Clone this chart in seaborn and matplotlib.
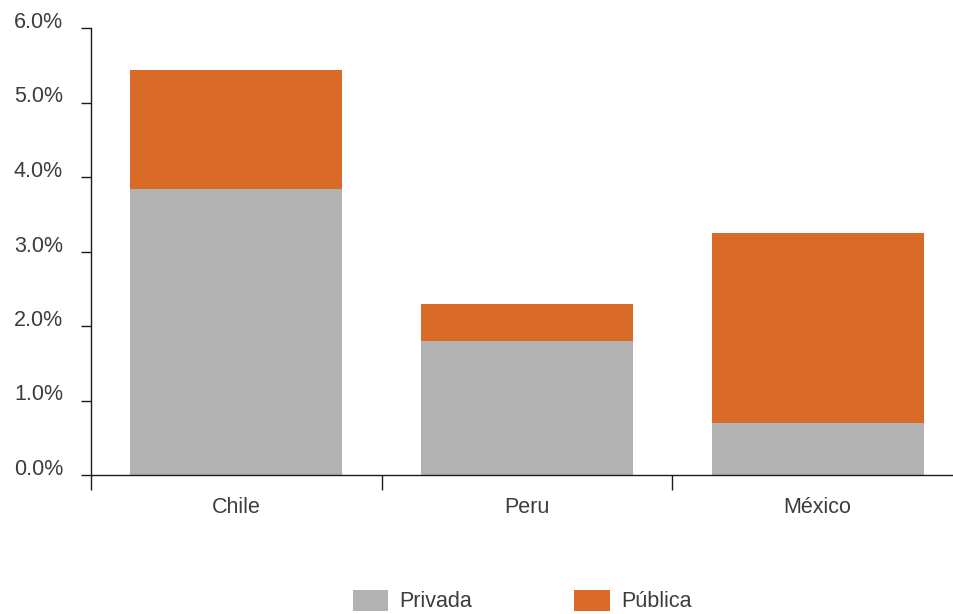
import matplotlib
matplotlib.use("Agg")
import matplotlib.pyplot as plt
from matplotlib.patches import Patch
from matplotlib.ticker import FixedLocator, FuncFormatter
import seaborn as sns
import pandas as pd

# Investment shares by country (% of GDP)
countries = ["Chile", "Peru", "México"]
privada = [3.84, 1.80, 0.70]
publica = [1.60, 0.50, 2.55]
series_names = ["Privada", "Pública"]

GRAY = "#B2B2B2"
ORANGE = "#D96A27"
TEXT = "#3c3c3c"
FS = 15.5

df = pd.DataFrame({"pais": countries, "privada": privada, "publica": publica})
df["total"] = df["privada"] + df["publica"]

sns.set_theme(style="white")
plt.rcParams["font.family"] = ["Liberation Sans", "DejaVu Sans"]

W, H = 954, 614
fig = plt.figure(figsize=(W / 100, H / 100), dpi=100)
left, right, top, bottom = 91, 963, 28, 475
ax = fig.add_axes([left / W, 1 - bottom / H, (right - left) / W, (bottom - top) / H])

# stacked bars: full height in orange, private share drawn over it in gray
sns.barplot(data=df, x="pais", y="total", color=ORANGE, width=0.73,
            saturation=1, ax=ax, linewidth=0)
sns.barplot(data=df, x="pais", y="privada", color=GRAY, width=0.73,
            saturation=1, ax=ax, linewidth=0)

ax.set_xlim(-0.5, 2.5)
ax.set_ylim(0, 6)
ax.set_xlabel("")
ax.set_ylabel("")

for s in ["top", "right"]:
    ax.spines[s].set_visible(False)
for s in ["left", "bottom"]:
    ax.spines[s].set_color("#1a1a1a")
    ax.spines[s].set_linewidth(1.0)

ax.yaxis.set_major_locator(FixedLocator([0, 1, 2, 3, 4, 5, 6]))
ax.yaxis.set_major_formatter(FuncFormatter(lambda v, p: f"{v:.1f}%"))
ax.tick_params(axis="y", which="major", left=True, length=7.2, width=1,
               color="#1a1a1a", labelsize=FS, labelcolor=TEXT, pad=13)
# percentage labels sit on the tick line
for lab in ax.get_yticklabels():
    lab.set_verticalalignment("baseline")

ax.set_xticks(range(len(countries)))
ax.set_xticklabels(countries)
ax.tick_params(axis="x", which="major", bottom=False, length=0,
               labelsize=FS, labelcolor=TEXT, pad=16)
ax.xaxis.set_minor_locator(FixedLocator([-0.5, 0.5, 1.5, 2.5]))
ax.tick_params(axis="x", which="minor", bottom=True, length=10.8, width=1,
               color="#1a1a1a")

handles = [Patch(facecolor=GRAY, edgecolor="none", label=series_names[0]),
           Patch(facecolor=ORANGE, edgecolor="none", label=series_names[1])]
leg = fig.legend(handles=handles, loc="center", ncol=2, frameon=False,
                 bbox_to_anchor=(522 / W, 1 - 601 / H),
                 fontsize=FS, handlelength=1.67, handleheight=1.12,
                 handletextpad=0.5, columnspacing=4.75)
for t in leg.get_texts():
    t.set_color(TEXT)

fig.savefig("out.png", dpi=100)
